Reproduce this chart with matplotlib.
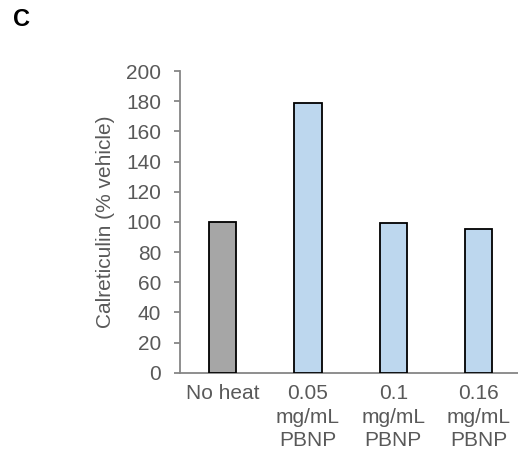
import matplotlib
matplotlib.use("Agg")
import matplotlib.pyplot as plt

# values
categories = ["No heat", "0.05\nmg/mL\nPBNP", "0.1\nmg/mL\nPBNP", "0.16\nmg/mL\nPBNP"]
values = [100, 179, 99, 95]
bar_colors = ["#A6A6A6", "#BDD7EE", "#BDD7EE", "#BDD7EE"]
yticks = [0, 20, 40, 60, 80, 100, 120, 140, 160, 180, 200]

plt.rcParams["font.family"] = ["Liberation Sans", "DejaVu Sans"]

fig = plt.figure(figsize=(5.18, 4.62), dpi=100)
ax = fig.add_axes([0.3475, 0.1933, 0.659, 0.653])

xs = list(range(len(categories)))
ax.bar(xs, values, width=0.32, color=bar_colors, edgecolor="black", linewidth=1.3, zorder=3)

ax.set_xlim(-0.5, 3.5)
ax.set_ylim(0, 200)
ax.set_yticks(yticks)
ax.set_xticks(xs)
ax.set_xticklabels(categories, linespacing=1.32)

grey = "#868686"
for side in ["top", "right"]:
    ax.spines[side].set_visible(False)
ax.spines["left"].set_color(grey)
ax.spines["bottom"].set_color(grey)
ax.spines["left"].set_linewidth(1.3)
ax.spines["bottom"].set_linewidth(1.3)

ax.tick_params(axis="y", direction="out", length=4.5, width=1.3, color=grey,
               labelsize=15, labelcolor="#595959", pad=9)
ax.tick_params(axis="x", length=0, labelsize=15, labelcolor="#595959", pad=8)

ax.set_ylabel("Calreticulin (% vehicle)", fontsize=15, color="#595959", labelpad=8)

fig.text(0.025, 0.957, "C", fontsize=17, fontweight="bold", va="center", ha="left")

fig.savefig("out.png", dpi=100)
